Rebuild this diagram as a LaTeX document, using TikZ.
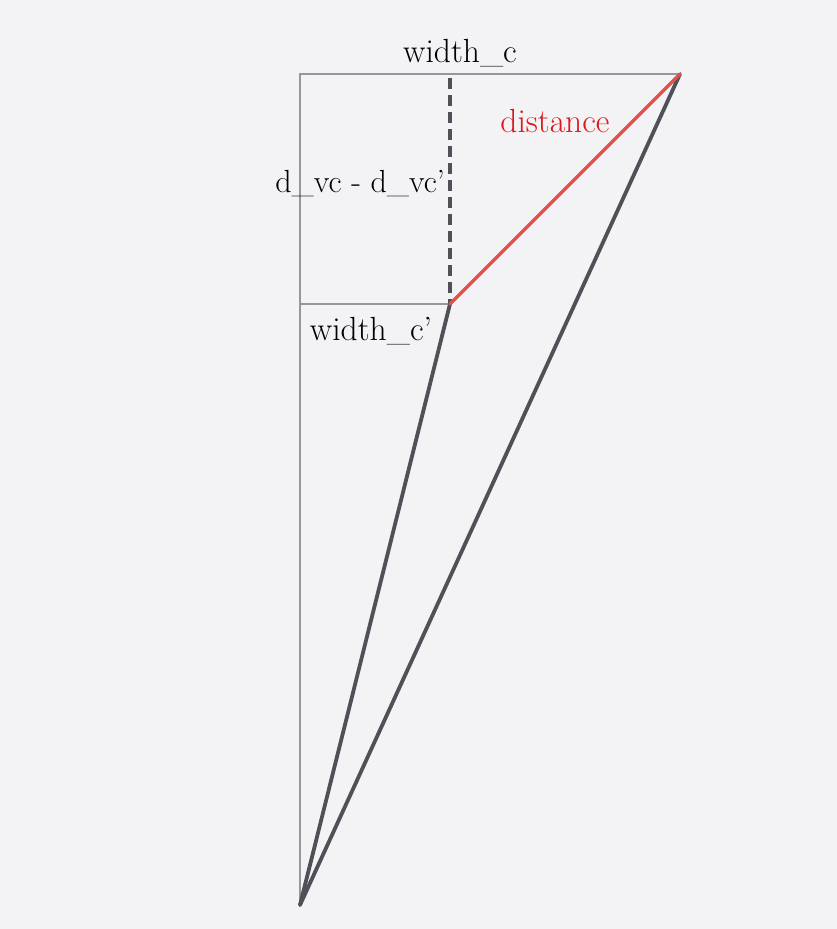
\documentclass[tikz,border=0pt]{standalone}
\usepackage{xcolor}
\usepackage{tikz}
\usetikzlibrary{calc,positioning}
\definecolor{paper}{RGB}{243,243,246}
\definecolor{guide}{RGB}{150,150,155}
\definecolor{pencil}{RGB}{80,80,88}
\definecolor{redline}{RGB}{226,82,72}
\definecolor{redtext}{RGB}{222,24,24}

\begin{document}
\begin{tikzpicture}[
  x=1pt, y=-1pt,
  thinline/.style={draw=guide, line width=1.6pt},
  darkline/.style={draw=pencil, line width=3.8pt, line cap=round},
  dashline/.style={draw=pencil, line width=3.8pt, dash pattern=on 11pt off 6pt},
  distline/.style={draw=redline, line width=3.4pt, line cap=round},
  lbl/.style={font=\fontsize{33.5}{40}\selectfont, inner sep=0pt},
]
  \fill[paper] (0,0) rectangle (837,929);
  \useasboundingbox (0,0) rectangle (837,929);

  % corner points
  \coordinate (apex) at (300,905);
  \coordinate (tl) at (300,74);
  \coordinate (tr) at (680,74);
  \coordinate (mid) at (450,304);
  \coordinate (midl) at (300,304);
  \coordinate (dtop) at (450,78);

  % guides
  \draw[thinline] (apex) -- (tl) -- (tr);
  \draw[thinline] (midl) -- (mid);
  \draw[dashline] (dtop) -- (mid);

  % sides
  \draw[darkline] (apex) -- (mid);
  \draw[darkline] (apex) -- (tr);
  \draw[distline] (mid) -- (tr);

  \node[lbl, anchor=base] (wc) at (460,62) {width\_c};
  \node[lbl, anchor=base, text=redtext] (dist) at (555,132) {distance};
  \node[lbl, anchor=base east, font=\fontsize{32}{38}\selectfont] (dvc) at (445,192) {d\_vc - d\_vc'};
  \node[lbl, anchor=base] (wcp) at (371,340) {width\_c'};
\end{tikzpicture}
\end{document}
